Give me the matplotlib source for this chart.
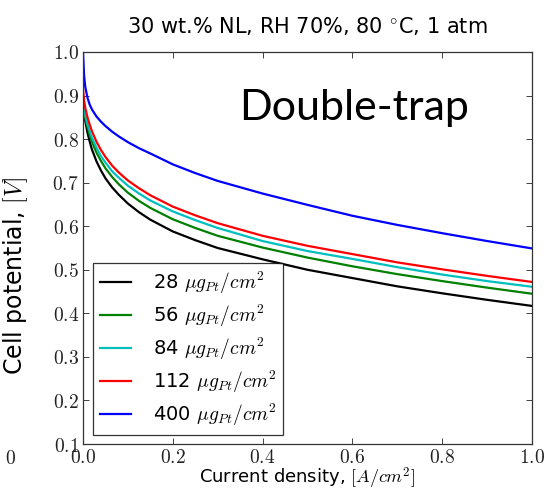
import matplotlib
matplotlib.use("Agg")
import matplotlib.pyplot as plt
from matplotlib.ticker import FuncFormatter

plt.rcParams['mathtext.fontset'] = 'cm'
plt.rcParams['font.family'] = ['DejaVu Sans']

current = [0, 0.0025, 0.005, 0.01, 0.015, 0.02, 0.03, 0.04, 0.05, 0.065, 0.08, 0.1,
           0.125, 0.15, 0.2, 0.25, 0.3, 0.4, 0.5, 0.6, 0.7, 0.8, 0.9, 1.0]

v_28 = [0.880, 0.859, 0.842, 0.815, 0.794, 0.776, 0.749, 0.728, 0.710, 0.689, 0.672, 0.652,
        0.632, 0.615, 0.588, 0.568, 0.550, 0.524, 0.500, 0.481, 0.462, 0.446, 0.431, 0.417]
v_56 = [0.885, 0.864, 0.850, 0.828, 0.809, 0.794, 0.769, 0.750, 0.733, 0.713, 0.696, 0.677,
        0.658, 0.642, 0.616, 0.596, 0.578, 0.551, 0.528, 0.508, 0.490, 0.474, 0.459, 0.445]
v_84 = [0.895, 0.866, 0.854, 0.834, 0.818, 0.803, 0.780, 0.761, 0.746, 0.726, 0.711, 0.693,
        0.675, 0.659, 0.634, 0.614, 0.596, 0.566, 0.543, 0.525, 0.506, 0.489, 0.474, 0.461]
v_112 = [0.915, 0.888, 0.872, 0.850, 0.833, 0.818, 0.794, 0.775, 0.759, 0.739, 0.723, 0.705,
         0.687, 0.671, 0.645, 0.625, 0.607, 0.578, 0.555, 0.536, 0.517, 0.501, 0.486, 0.472]
v_400 = [1.000, 0.945, 0.920, 0.895, 0.879, 0.868, 0.852, 0.840, 0.830, 0.817, 0.806, 0.793,
         0.779, 0.767, 0.742, 0.722, 0.704, 0.675, 0.649, 0.624, 0.603, 0.584, 0.566, 0.549]

series = [v_28, v_56, v_84, v_112, v_400]
loadings = ['28', '56', '84', '112', '400']
colors = ['#000000', '#008000', '#00bfbf', '#ff0000', '#0000ff']

x_ticks = [0.0, 0.2, 0.4, 0.6, 0.8, 1.0]
y_ticks = [0.1, 0.2, 0.3, 0.4, 0.5, 0.6, 0.7, 0.8, 0.9, 1.0]

fig = plt.figure(figsize=(5.54, 4.90), dpi=100)
ax = fig.add_axes([83/554, 1-444/490, (532-83)/554, (444-52)/490])

for v, lab, c in zip(series, loadings, colors):
    ax.plot(current, v, color=c, lw=1.6, label=lab + r' $\mu g_{Pt}/cm^2$')

ax.set_xlim(0, 1.0)
ax.set_ylim(0.1, 1.0)
ax.set_xticks(x_ticks)
ax.set_yticks(y_ticks)
fmt = FuncFormatter(lambda v, p: r'$%.1f$' % v)
ax.xaxis.set_major_formatter(fmt)
ax.yaxis.set_major_formatter(fmt)
ax.tick_params(direction='in', length=4, width=0.6, top=True, right=True,
               labelsize=14, colors='#222222', pad=3)
ax.tick_params(axis='y', pad=3)
for s in ax.spines.values():
    s.set_linewidth(0.9)
    s.set_color('#333333')

ax.set_xlabel(r'Current density, $[A/cm^2]$', fontsize=13, labelpad=-1)
ax.set_ylabel(r'Cell potential, $[V]$', fontsize=17, labelpad=2)
ax.yaxis.set_label_coords(-0.118, 0.43)
ax.set_title(r'30 wt.% NL, RH 70%, 80 $^{\circ}$C, 1 atm', fontsize=15, pad=14)

leg = ax.legend(loc='lower left', fontsize=14, fancybox=False, frameon=True,
                borderpad=0.35, labelspacing=0.35, handlelength=1.6, handletextpad=1.1,
                borderaxespad=0.0, bbox_to_anchor=(0.023, 0.023))
leg.get_frame().set_edgecolor('#000000')
leg.get_frame().set_linewidth(0.9)

ax.text(0.347, 0.857, 'Double-trap', transform=ax.transAxes, fontsize=31,
        family='Lato', va='center', ha='left')

fig.text(5/554, 1-458/490, r'$0$', fontsize=14, color='#222222', va='center', ha='left')

fig.savefig('out.png', dpi=100)
